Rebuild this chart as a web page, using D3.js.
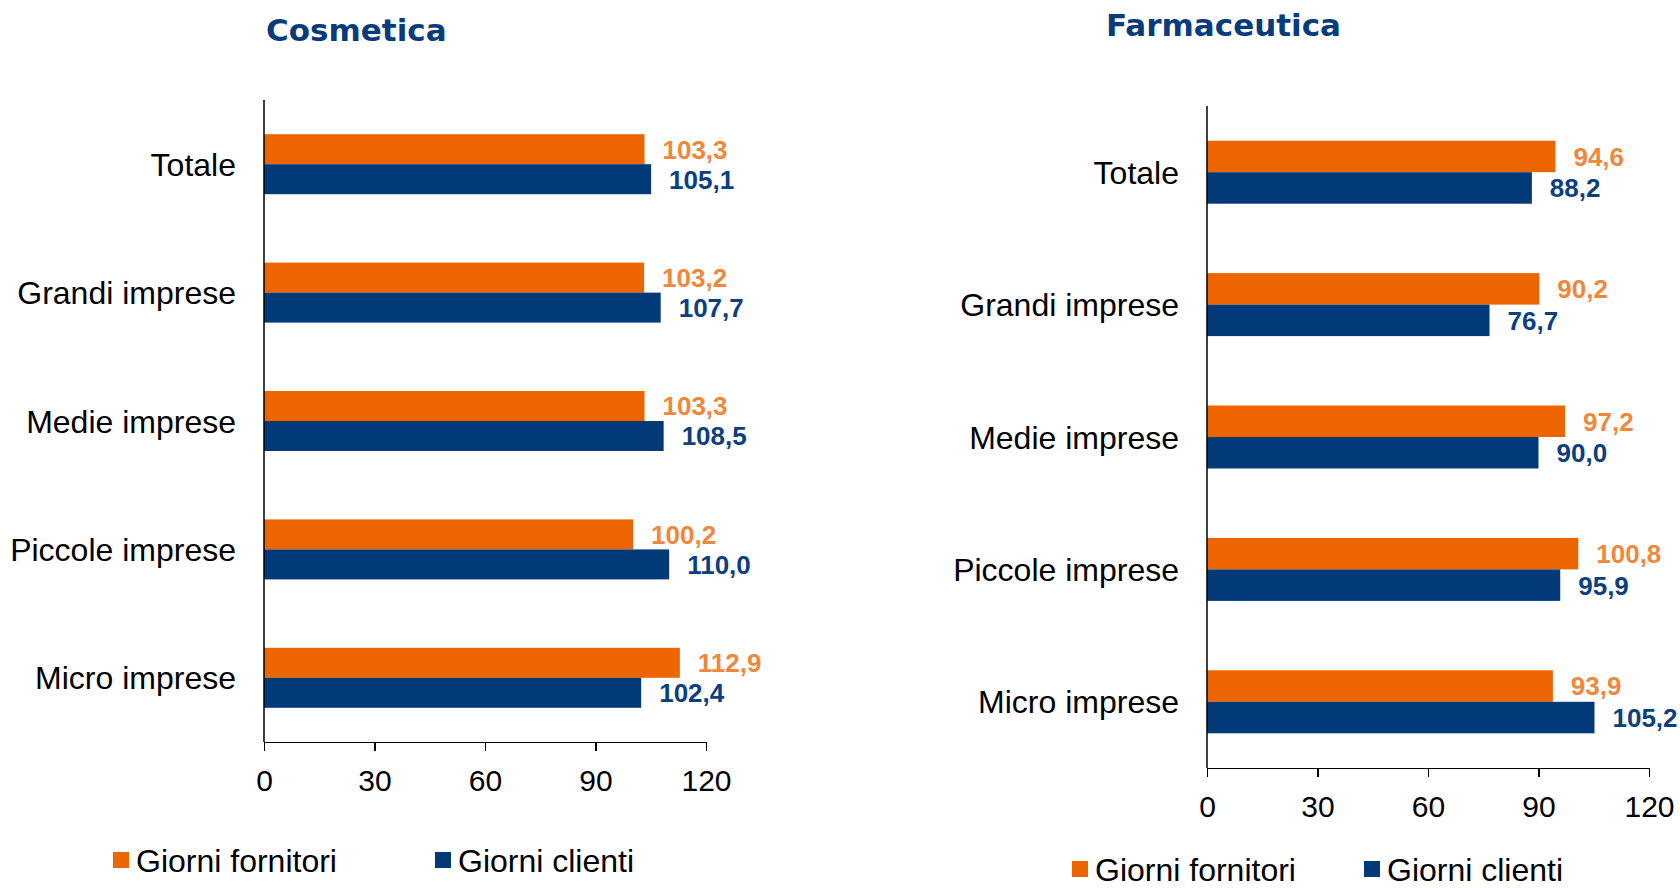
<!DOCTYPE html>
<meta charset="utf-8">
<style>
body { margin: 0; background: #fff; font-family: Arial, "Liberation Sans", sans-serif; }
.axis path, .axis line { stroke: #000; stroke-width: 1.5px; shape-rendering: crispEdges; }
.axis text { font-size: 30px; fill: #000; font-family: Arial, "Liberation Sans", sans-serif; }
.cat { font-size: 32px; fill: #000; }
.title { font-family: "DejaVu Sans", sans-serif; font-weight: bold; font-size: 31px; fill: #063c7c; }
.val { font-weight: bold; font-size: 26px; }
.legend text { font-size: 32px; fill: #000; }
</style>
<body>
<script src="https://d3js.org/d3.v7.min.js"></script>
<script>

// categories (top to bottom)
var categories = ["Totale", "Grandi imprese", "Medie imprese", "Piccole imprese", "Micro imprese"];
var seriesNames = ["Giorni fornitori", "Giorni clienti"];
var xTicks = [0, 30, 60, 90, 120];

// Cosmetica
var cosmFornitori = [103.3, 103.2, 103.3, 100.2, 112.9];
var cosmClienti   = [105.1, 107.7, 108.5, 110.0, 102.4];

// Farmaceutica
var farmFornitori = [94.6, 90.2, 97.2, 100.8, 93.9];
var farmClienti   = [88.2, 76.7, 90.0, 95.9, 105.2];

var barColors = ["#ec6500", "#023a78"];
var labelColors = ["#f0873a", "#0b3f7f"];

var svg = d3.select("body").append("svg")
    .attr("width", 1680)
    .attr("height", 888);

var fmt = function(v) { return d3.format(".1f")(v).replace(".", ","); };

function drawPanel(opt) {
  var g = svg.append("g");

  var x = d3.scaleLinear().domain([0, 120]).range([opt.left, opt.left + 442]);
  var y = d3.scaleBand().domain(categories).range([opt.top, opt.bottom]).paddingInner(0).paddingOuter(0);
  var barH = opt.barH;

  // title
  g.append("text")
      .attr("class", "title")
      .attr("x", opt.titleX)
      .attr("y", opt.titleY)
      .text(opt.title);

  // bars
  var series = [opt.fornitori, opt.clienti];
  series.forEach(function(vals, s) {
    g.selectAll(".bar" + s)
      .data(categories)
      .enter().append("rect")
        .attr("x", x(0))
        .attr("y", function(d) { return y(d) + y.bandwidth() / 2 - barH + s * barH; })
        .attr("width", function(d, i) { return x(vals[i]) - x(0); })
        .attr("height", barH)
        .attr("fill", barColors[s]);

    g.selectAll(".val" + s)
      .data(categories)
      .enter().append("text")
        .attr("class", "val")
        .attr("x", function(d, i) { return x(vals[i]) + 18; })
        .attr("y", function(d) { return y(d) + y.bandwidth() / 2 - barH / 2 + s * barH; })
        .attr("dy", "0.36em")
        .attr("fill", labelColors[s])
        .text(function(d, i) { return fmt(vals[i]); });
  });

  // category labels
  g.selectAll(".cat")
    .data(categories)
    .enter().append("text")
      .attr("class", "cat")
      .attr("x", opt.left - 28)
      .attr("y", function(d) { return y(d) + y.bandwidth() / 2; })
      .attr("dy", "0.36em")
      .attr("text-anchor", "end")
      .text(function(d) { return d; });

  // axes
  g.append("g")
      .attr("class", "axis")
      .attr("transform", "translate(0," + opt.bottom + ")")
      .call(d3.axisBottom(x).tickValues(xTicks).tickSize(9).tickSizeOuter(9).tickPadding(19))
      .selectAll("text").attr("dy", "0.71em");

  g.append("line")
      .attr("class", "axis")
      .attr("x1", x(0)).attr("x2", x(0))
      .attr("y1", opt.top).attr("y2", opt.bottom)
      .attr("stroke", "#000").attr("stroke-width", 1.5);

  // legend
  var lg = g.append("g").attr("class", "legend");
  opt.legend.forEach(function(p, s) {
    lg.append("rect")
      .attr("x", p[0]).attr("y", opt.legendY - 8)
      .attr("width", 16).attr("height", 16)
      .attr("fill", barColors[s]);
    lg.append("text")
      .attr("x", p[0] + 23).attr("y", opt.legendY)
      .attr("dy", "0.36em")
      .text(seriesNames[s]);
  });
}

drawPanel({
  title: "Cosmetica", titleX: 266, titleY: 41,
  left: 264, top: 100, bottom: 742, barH: 30,
  fornitori: cosmFornitori, clienti: cosmClienti,
  legendY: 860, legend: [[113], [435]]
});

drawPanel({
  title: "Farmaceutica", titleX: 1106, titleY: 36,
  left: 1207, top: 106, bottom: 768, barH: 31.5,
  fornitori: farmFornitori, clienti: farmClienti,
  legendY: 869, legend: [[1072], [1364]]
});

</script>
</body>
